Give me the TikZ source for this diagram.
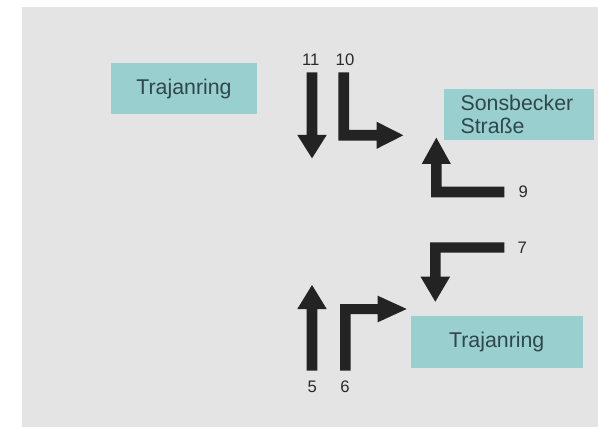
\documentclass[tikz,border=0pt]{standalone}
\usepackage{fontspec}
\setmainfont{Liberation Sans}
\definecolor{bggray}{HTML}{E4E4E4}
\definecolor{boxteal}{HTML}{9ACFD0}
\definecolor{txtdark}{HTML}{2E474C}
\definecolor{arrdark}{HTML}{232323}
\definecolor{numgray}{HTML}{2A2A2A}
\begin{document}
\begin{tikzpicture}[x=0.75pt,y=-0.75pt,
  roadbox/.style={fill=boxteal, draw=none, text=txtdark, inner sep=0pt,
    font=\fontsize{16}{16.7}\selectfont},
  numlabel/.style={text=numgray, inner sep=0pt, font=\fontsize{12.5}{14}\selectfont},
  turnarrow/.style={fill=arrdark, draw=none}]
\useasboundingbox (0,0) rectangle (598,427);
\fill[white] (0,0) rectangle (598,427);
\fill[bggray] (22,7) rectangle (598,427);

% boxes
\node[roadbox, minimum width=146.6*0.75pt, minimum height=50.7*0.75pt] (trajtop) at (184,88.65) {Trajanring};
\node[roadbox, minimum width=150.5*0.75pt, minimum height=50.7*0.75pt] (sons) at (518.8,114.65) {};
\node[roadbox, anchor=west, fill=none, align=left] (sonstext) at (460.3,114.4) {Sonsbecker\\Straße};
\node[roadbox, minimum width=172*0.75pt, minimum height=51.5*0.75pt] (trajbot) at (496.7,341.9) {Trajanring};

% arrow 11 (down)
\fill[turnarrow] (306.7,72.3) -- (317.3,72.3) -- (317.3,135) -- (326.7,135) -- (312,158.3) -- (297.3,135) -- (306.7,135) -- cycle;
% arrow 10 (down then right)
\fill[turnarrow] (338.3,72.3) -- (349,72.3) -- (349,130) -- (376.7,130) -- (376.7,121.8) -- (403.3,135.3) -- (376.7,148.8) -- (376.7,140.6) -- (338.3,140.6) -- cycle;
% arrow 9 (left then up)
\fill[turnarrow] (504.3,186.7) -- (504.3,197.3) -- (431,197.3) -- (431,164) -- (421.7,164) -- (436.3,137.7) -- (450.9,164) -- (441.7,164) -- (441.7,186.7) -- cycle;
% arrow 7 (left then down)
\fill[turnarrow] (504.3,242.3) -- (430,242.3) -- (430,276.7) -- (420.5,276.7) -- (435.3,301.7) -- (450.1,276.7) -- (440.7,276.7) -- (440.7,252.7) -- (504.3,252.7) -- cycle;
% arrow 5 (up)
\fill[turnarrow] (306.7,370.7) -- (306.7,309) -- (297.3,309) -- (312,285) -- (326.7,309) -- (317.3,309) -- (317.3,370.7) -- cycle;
% arrow 6 (up then right)
\fill[turnarrow] (340,370.7) -- (340,304) -- (377.7,304) -- (377.7,295.7) -- (406.7,309) -- (377.7,322.3) -- (377.7,314) -- (350.7,314) -- (350.7,370.7) -- cycle;

% numbers
\node[numlabel] (n11) at (310.7,60) {11};
\node[numlabel] (n10) at (345,60) {10};
\node[numlabel] (n9) at (523.3,192) {9};
\node[numlabel] (n7) at (522.3,248) {7};
\node[numlabel] (n5) at (312.3,387) {5};
\node[numlabel] (n6) at (345,387) {6};
\end{tikzpicture}
\end{document}
